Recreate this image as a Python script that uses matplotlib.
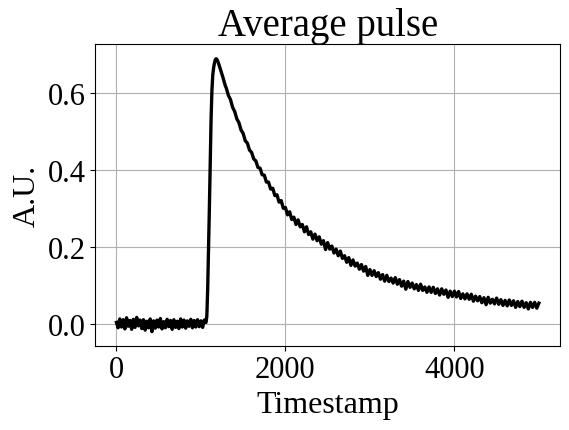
import numpy as np
import matplotlib
matplotlib.use("Agg")
import matplotlib.pyplot as plt

plt.rcParams['font.family'] = ['Liberation Serif', 'DejaVu Serif']

# --- data (timestamp segments and amplitudes) ---
baseline_t = np.arange(0, 1061, 20)
baseline_v = [0.004, -0.010, 0.013, -0.008, 0.011, -0.013, 0.016, -0.006, 0.009, -0.014,
              0.012, -0.009, 0.017, -0.005, 0.010, -0.012, 0.011, -0.016, 0.007, -0.010,
              0.013, -0.020, 0.008, -0.011, 0.010, -0.008, 0.014, -0.013, 0.006, -0.010,
              0.012, -0.007, 0.009, -0.014, 0.011, -0.009, 0.007, -0.012, 0.013, -0.008,
              0.010, -0.011, 0.008, -0.006, 0.012, -0.010, 0.009, -0.008, 0.011, -0.007,
              0.008, -0.009, 0.010, 0.004]

peak_t = np.arange(1070, 1291, 10)
peak_v = [0.020, 0.090, 0.190, 0.300, 0.420, 0.530, 0.605, 0.645, 0.664, 0.677,
          0.685, 0.688, 0.686, 0.681, 0.675, 0.668, 0.661, 0.654, 0.647, 0.640,
          0.632, 0.625, 0.617]

decay_t = np.arange(1300, 1976, 25)
decay_v = [0.612, 0.593, 0.582, 0.562, 0.551, 0.532, 0.522, 0.503, 0.494, 0.475,
           0.469, 0.451, 0.445, 0.428, 0.423, 0.406, 0.404, 0.387, 0.386, 0.368,
           0.368, 0.350, 0.352, 0.333, 0.335, 0.316, 0.320, 0.300]

tail_t = np.arange(2000, 5001, 25)
tail_v = [0.302, 0.283, 0.291, 0.271, 0.277, 0.258, 0.270, 0.252, 0.258, 0.239,
          0.252, 0.232, 0.239, 0.220, 0.233, 0.216, 0.226, 0.207, 0.216, 0.193,
          0.211, 0.194, 0.202, 0.184, 0.194, 0.177, 0.189, 0.170, 0.177, 0.160,
          0.172, 0.152, 0.166, 0.150, 0.158, 0.142, 0.154, 0.137, 0.149, 0.126,
          0.141, 0.126, 0.138, 0.123, 0.133, 0.116, 0.128, 0.111, 0.126, 0.110,
          0.119, 0.106, 0.120, 0.103, 0.115, 0.098, 0.111, 0.090, 0.110, 0.095,
          0.106, 0.091, 0.102, 0.087, 0.103, 0.087, 0.096, 0.082, 0.096, 0.082,
          0.095, 0.079, 0.091, 0.075, 0.091, 0.077, 0.088, 0.069, 0.085, 0.071,
          0.085, 0.070, 0.084, 0.066, 0.078, 0.065, 0.078, 0.064, 0.077, 0.059,
          0.072, 0.060, 0.071, 0.055, 0.068, 0.050, 0.069, 0.054, 0.064, 0.052,
          0.067, 0.051, 0.063, 0.048, 0.061, 0.047, 0.062, 0.048, 0.060, 0.043,
          0.058, 0.045, 0.059, 0.043, 0.055, 0.039, 0.056, 0.043, 0.056, 0.041,
          0.054]

timestamps = np.concatenate([baseline_t, peak_t, decay_t, tail_t])
amplitude = np.concatenate([baseline_v, peak_v, decay_v, tail_v])

title = "Average pulse"
xlabel = "Timestamp"
ylabel = "A.U."

fig = plt.figure(figsize=(5.69, 4.31), dpi=100)
ax = fig.add_axes([0.1675, 0.196, 0.8167, 0.6985])
ax.plot(timestamps, amplitude, color='black', lw=2.4)
ax.set_xlim(-250, 5250)
ax.set_ylim(-0.056, 0.725)
ax.set_xticks([0, 2000, 4000])
ax.set_yticks([0.0, 0.2, 0.4, 0.6])
ax.grid(True, color='#b0b0b0', lw=0.8)
ax.set_axisbelow(True)
ax.tick_params(labelsize=22)
ax.set_title(title, fontsize=28)
ax.set_xlabel(xlabel, fontsize=23)
ax.set_ylabel(ylabel, fontsize=23)
fig.savefig("out.png", dpi=100)
